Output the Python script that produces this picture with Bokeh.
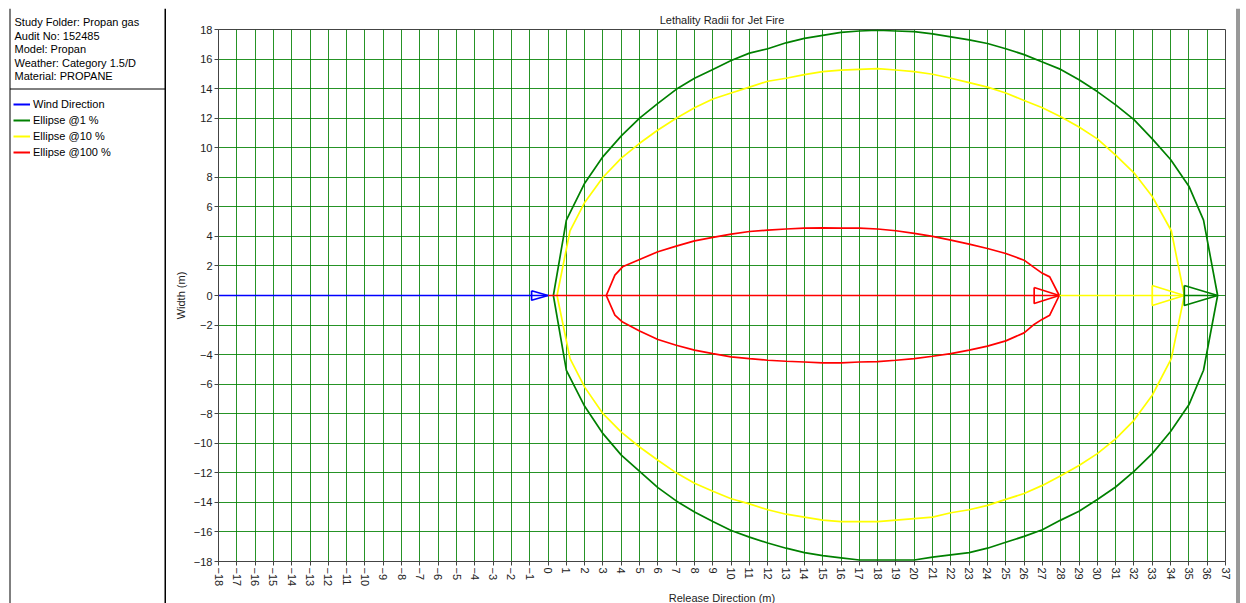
import math
from bokeh.plotting import figure
from bokeh.layouts import row, column
from bokeh.models import Range1d, FixedTicker, Label, Legend, LegendItem
from bokeh.embed import file_html
from bokeh.resources import INLINE

FONT = "Liberation Sans"

# ---------------- data ----------------
title_text = "Lethality Radii for Jet Fire"
x_label = "Release Direction (m)"
y_label = "Width (m)"
info_lines = ["Study Folder: Propan gas", "Audit No: 152485", "Model: Propan",
              "Weather: Category 1.5/D", "Material: PROPANE"]
series_names = ["Wind Direction", "Ellipse @1 %", "Ellipse @10 %", "Ellipse @100 %"]
series_colors = ["#0000ff", "#008000", "#ffff00", "#ff0000"]

x_ticks = list(range(-18, 38))
y_ticks = list(range(-18, 20, 2))

wind_x = [-18, 0]
wind_y = [0, 0]

green_x = [0.29, 1, 2, 3, 4, 5, 6, 7, 8, 9, 10, 11, 12, 13, 14, 15, 16, 17, 18, 19,
           20, 21, 22, 23, 24, 25, 26, 27, 28, 29, 30, 31, 32, 33, 34, 35, 35.8, 36.57]
green_upper = [0, 5.1, 7.6, 9.4, 10.8, 12.0, 13.0, 13.95, 14.7, 15.3, 15.9, 16.4, 16.7, 17.1,
               17.4, 17.6, 17.8, 17.9, 17.95, 17.9, 17.85, 17.7, 17.5, 17.3, 17.05, 16.7, 16.3,
               15.8, 15.3, 14.6, 13.8, 12.9, 11.9, 10.6, 9.2, 7.4, 5.1, 0]
green_lower = [0, -5.06, -7.5, -9.35, -10.8, -11.9, -13.0, -13.9, -14.65, -15.3, -15.9, -16.35,
               -16.75, -17.1, -17.4, -17.6, -17.75, -17.9, -17.9, -17.9, -17.9, -17.7, -17.55,
               -17.4, -17.1, -16.7, -16.3, -15.85, -15.2, -14.6, -13.8, -12.96, -11.9, -10.7,
               -9.2, -7.4, -5.06, 0]

yellow_x = [0.49, 1.2, 2, 3, 4, 5, 6, 7, 8, 9, 10, 11, 12, 13, 14, 15, 16, 17, 18, 19, 20,
            21, 22, 23, 24, 25, 26, 27, 28, 29, 30, 31, 32, 33, 34.04, 34.75]
yellow_upper = [0, 4.38, 6.3, 8.0, 9.3, 10.3, 11.2, 12.0, 12.7, 13.3, 13.7, 14.1, 14.5, 14.7,
                14.95, 15.15, 15.25, 15.3, 15.35, 15.26, 15.15, 14.97, 14.7, 14.4, 14.1, 13.7,
                13.2, 12.7, 12.1, 11.4, 10.6, 9.5, 8.3, 6.7, 4.38, 0]
yellow_lower = [0, -4.27, -6.2, -8.0, -9.25, -10.25, -11.15, -12.0, -12.7, -13.25, -13.75,
                -14.1, -14.5, -14.8, -15.0, -15.2, -15.3, -15.3, -15.3, -15.2, -15.1, -15.0,
                -14.7, -14.5, -14.2, -13.8, -13.4, -12.85, -12.2, -11.5, -10.7, -9.7, -8.45,
                -6.75, -4.27, 0]

red_x = [3.18, 3.65, 4.07, 5, 6, 7, 8, 9, 10, 11, 12, 13, 14, 15, 16, 17, 18, 19, 20, 21,
         22, 23, 24, 25, 26, 26.5, 27, 27.4, 27.92]
red_upper = [0, 1.38, 1.94, 2.44, 2.96, 3.34, 3.7, 3.93, 4.15, 4.33, 4.42, 4.5, 4.56, 4.58,
             4.56, 4.56, 4.5, 4.38, 4.2, 4.0, 3.75, 3.48, 3.18, 2.84, 2.39, 1.94, 1.5, 1.26, 0]
red_lower = [0, -1.33, -1.8, -2.4, -2.98, -3.37, -3.7, -3.93, -4.15, -4.27, -4.38, -4.45,
             -4.5, -4.56, -4.56, -4.5, -4.47, -4.38, -4.27, -4.11, -3.93, -3.7, -3.43, -3.07,
             -2.53, -2.0, -1.6, -1.33, 0]

# arrow head sizes (style, data units): length, half height
arrow_style = {"wind": (0.9, 0.32), "green": (1.82, 0.68), "yellow": (1.75, 0.68), "red": (1.37, 0.54)}

# ---------------- layout geometry (page pixels) ----------------
TOP_H = 8          # strip holding the top border line
PANEL_W = 166      # left info / legend panel
FRAME_L = 218      # page x of plot frame left edge
FRAME_T = 29       # page y of plot frame top edge
FRAME_W, FRAME_H = 1007, 532
BOTTOM = 42
RIGHT_PAD = 8
TOTAL_W = 1240
BODY_H = (FRAME_T - TOP_H) + FRAME_H + BOTTOM
MAIN_W = (FRAME_L - PANEL_W) + FRAME_W + RIGHT_PAD
RIGHT_W = TOTAL_W - PANEL_W - MAIN_W
BORDER = "#333333"


def blank(w, h, xr, yr):
    f = figure(width=w, height=h, x_range=Range1d(*xr), y_range=Range1d(*yr),
               output_backend="svg", toolbar_location=None,
               x_axis_location=None, y_axis_location=None,
               min_border=0, min_border_left=0, min_border_right=0,
               min_border_top=0, min_border_bottom=0, frame_align=False,
               background_fill_color="white", border_fill_color="white")
    f.grid.visible = False
    f.outline_line_color = None
    return f


# ---------------- main chart ----------------
p = figure(frame_width=FRAME_W, frame_height=FRAME_H,
           x_range=Range1d(-18, 37), y_range=Range1d(-18, 18),
           output_backend="svg", toolbar_location=None, frame_align=False,
           min_border_left=FRAME_L - PANEL_W, min_border_right=RIGHT_PAD,
           min_border_top=FRAME_T - TOP_H, min_border_bottom=BOTTOM, title=title_text,
           background_fill_color="white", border_fill_color="white")

p.title.text_font = FONT
p.title.text_font_size = "11px"
p.title.text_font_style = "normal"
p.title.text_color = "#222222"
p.title.align = "center"
p.title.standoff = 7

p.outline_line_color = "#444444"
p.outline_line_width = 1

for ax, ticks, lab in ((p.xaxis, x_ticks, x_label), (p.yaxis, y_ticks, y_label)):
    ax.ticker = FixedTicker(ticks=ticks)
    ax.axis_label = lab
    ax.axis_label_text_font = FONT
    ax.axis_label_text_font_size = "11px"
    ax.axis_label_text_font_style = "normal"
    ax.axis_label_text_color = "#222222"
    ax.major_label_text_font = FONT
    ax.major_label_text_font_size = "11px"
    ax.major_label_text_color = "#222222"
    ax.major_tick_out = 4
    ax.major_tick_in = 0
    ax.minor_tick_line_color = None
    ax.axis_line_color = "#444444"
    ax.major_tick_line_color = "#444444"
    ax.major_label_standoff = 2

p.xaxis.major_label_orientation = -math.pi / 2
p.xaxis.axis_label_standoff = 3
p.yaxis.axis_label_standoff = 4

p.xgrid.ticker = FixedTicker(ticks=x_ticks)
p.ygrid.ticker = FixedTicker(ticks=y_ticks)
for g in (p.xgrid, p.ygrid):
    g.grid_line_color = "#008000"
    g.grid_line_alpha = 0.85
    g.grid_line_width = 1


def closed(xs, up, lo):
    return list(xs) + list(xs[::-1]), list(up) + list(lo[::-1])


gx, gy = closed(green_x, green_upper, green_lower)
yx, yy = closed(yellow_x, yellow_upper, yellow_lower)
rx, ry = closed(red_x, red_upper, red_lower)

lw = 1.7
p.line(gx, gy, line_color=series_colors[1], line_width=lw)
p.line(yx, yy, line_color=series_colors[2], line_width=lw)
p.line(rx, ry, line_color=series_colors[3], line_width=lw)

# centre line segments along the release direction
p.line([wind_x[-1], red_x[-1]], [0, 0], line_color=series_colors[3], line_width=lw)
p.line([red_x[-1], yellow_x[-1]], [0, 0], line_color=series_colors[2], line_width=lw)
p.line([yellow_x[-1], green_x[-1]], [0, 0], line_color=series_colors[1], line_width=lw)
p.line(wind_x, wind_y, line_color=series_colors[0], line_width=lw)


def arrow(tip, key, color):
    length, half = arrow_style[key]
    base = tip - length
    p.line([base, tip, base, base], [half, 0, -half, half], line_color=color, line_width=lw)


arrow(wind_x[-1], "wind", series_colors[0])
arrow(red_x[-1], "red", series_colors[3])
arrow(yellow_x[-1], "yellow", series_colors[2])
arrow(green_x[-1], "green", series_colors[1])

# ---------------- top border strip ----------------
top = blank(TOTAL_W, TOP_H, (0, TOTAL_W), (TOP_H, 0))
top.line([9.5, 1238.5], [6, 6], line_color=BORDER, line_width=1.5)
for xv in (9.5, 1236.5, 1238.5):
    top.line([xv, xv], [6, TOP_H], line_color=BORDER, line_width=1)
top.line([165, 165], [6, TOP_H], line_color="black", line_width=2)

# ---------------- left info / legend panel ----------------
left = blank(PANEL_W, BODY_H, (0, PANEL_W), (TOP_H + BODY_H, TOP_H))
left.line([9.5, 9.5], [TOP_H, TOP_H + BODY_H], line_color="black", line_width=1)
left.line([9.5, PANEL_W], [88.5, 88.5], line_color="black", line_width=1)
left.line([165, 165], [TOP_H, TOP_H + BODY_H], line_color="black", line_width=2)

for i, t in enumerate(info_lines):
    left.add_layout(Label(x=14, y=21.5 + 13.6 * i, text=t, text_font=FONT,
                          text_font_size="11px", text_color="black",
                          text_baseline="middle"))

# legend swatch carriers: lines kept outside the panel's visible range
legend_renderers = [left.line([-50, -40], [-50, -50], line_color=c, line_width=2)
                    for c in series_colors]
legend = Legend(items=[LegendItem(label=n, renderers=[r])
                       for n, r in zip(series_names, legend_renderers)],
                location=(13, (TOP_H + BODY_H) - (96.3 + 64)),
                label_text_font=FONT, label_text_font_size="11px", label_text_color="black",
                glyph_width=17, glyph_height=16, label_height=16, label_standoff=3,
                spacing=0, padding=0, margin=0,
                border_line_color=None, background_fill_alpha=0)
left.add_layout(legend)

# ---------------- right border strip ----------------
right = blank(RIGHT_W, BODY_H, (TOTAL_W - RIGHT_W, TOTAL_W), (TOP_H + BODY_H, TOP_H))
for xv in (1236.5, 1238.5):
    right.line([xv, xv], [TOP_H, TOP_H + BODY_H], line_color=BORDER, line_width=1)

layout = column(top, row(left, p, right, spacing=0), spacing=0)

open("out.html", "w").write(file_html(layout, INLINE))
